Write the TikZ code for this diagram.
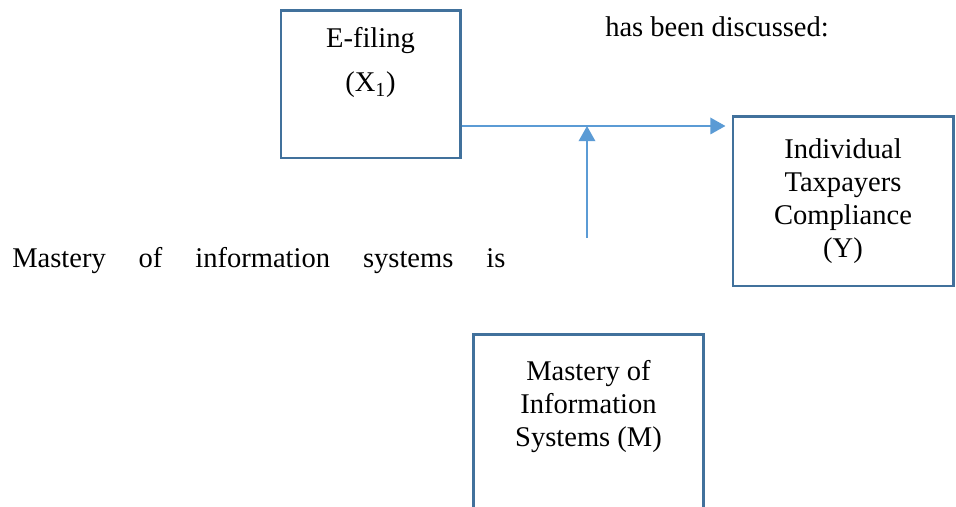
\documentclass[tikz,border=0pt]{standalone}
\usepackage{fontspec}
\setmainfont{Liberation Serif}
\usetikzlibrary{arrows.meta,positioning,calc}
\definecolor{boxblue}{HTML}{41719C}
\definecolor{arrowblue}{HTML}{5B9BD5}
\tikzstyle{block} = [draw=boxblue, rectangle, line width=2.1pt, align=center, inner sep=0pt]
\tikzstyle{boxtext} = [align=center, inner sep=0pt]
\tikzstyle{link} = [draw=arrowblue, line width=1.6pt, ->]

\begin{document}
\begin{tikzpicture}[x=0.025cm, y=0.025cm, >={Triangle[length=0.38cm, width=0.41cm]}, font=\fontsize{20.3}{23.5}\selectfont]
  \useasboundingbox (0,0) rectangle (956,507);
  \clip (0,0) rectangle (956,507);

  % Boxes
  \node [block, minimum width=4.475cm, minimum height=3.675cm] (efile) at (370.5,422.5) {};
  \node [block, minimum width=5.5cm, minimum height=4.225cm] (ybox) at (843,305.5) {Individual\\Taxpayers\\Compliance\\(Y)};
  \node [block, minimum width=5.725cm, minimum height=4.75cm] (mbox) at (588.5,77) {};

  % Box texts
  \node [boxtext, below=0.45cm of efile.north] (efiletext) {E-filing\\[0.275cm](X\textsubscript{1})};
  \node [boxtext, below=0.66cm of mbox.north] (mboxtext) {Mastery of\\Information\\Systems (M)};

  % Path
  \coordinate (split) at ($(efile.south east)+(0,33.5)$);
  \coordinate (mfree) at (587,269);
  \draw [link, shorten >=0.15cm] (split) -- (split -| ybox.west);
  \draw [link] (mfree) -- (mfree |- split);

  % Running text
  \node [anchor=base west, inner sep=0pt] (body) at (12,239) {\makebox[12.325cm][s]{Mastery of information systems is}};
  \node [anchor=base west, inner sep=0pt] (tail) at (605,470) {has been discussed:};
\end{tikzpicture}
\end{document}
